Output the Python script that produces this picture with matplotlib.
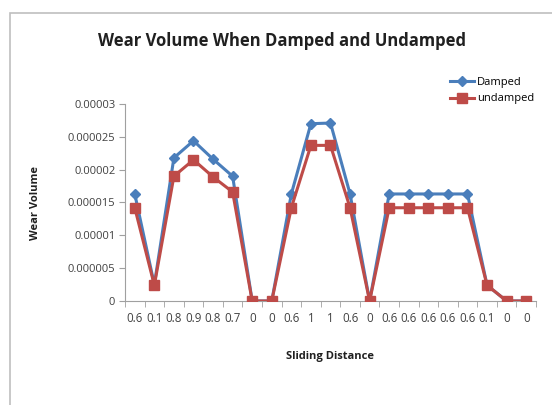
import matplotlib.pyplot as plt
from matplotlib.patches import Rectangle

# categories along the x axis (sliding distance labels as shown)
distance_labels = ["0.6", "0.1", "0.8", "0.9", "0.8", "0.7", "0", "0", "0.6", "1", "1",
                   "0.6", "0", "0.6", "0.6", "0.6", "0.6", "0.6", "0.1", "0", "0"]

damped = [1.63e-5, 2.5e-6, 2.18e-5, 2.44e-5, 2.16e-5, 1.90e-5, 0, 0, 1.63e-5, 2.70e-5, 2.71e-5,
          1.63e-5, 0, 1.63e-5, 1.63e-5, 1.63e-5, 1.63e-5, 1.63e-5, 2.4e-6, 0, 0]
undamped = [1.42e-5, 2.4e-6, 1.90e-5, 2.15e-5, 1.89e-5, 1.66e-5, 0, 0, 1.42e-5, 2.37e-5, 2.37e-5,
            1.42e-5, 0, 1.42e-5, 1.42e-5, 1.42e-5, 1.42e-5, 1.42e-5, 2.4e-6, 0, 0]

y_ticks = [0, 0.000005, 0.00001, 0.000015, 0.00002, 0.000025, 0.00003]
y_tick_labels = ["0", "0.000005", "0.00001", "0.000015", "0.00002", "0.000025", "0.00003"]

plt.rcParams['font.family'] = ['Open Sans', 'DejaVu Sans']

fig = plt.figure(figsize=(5.52, 4.05), dpi=100)
ax = fig.add_axes([0.2264, 0.2568, 0.7446, 0.4864])

# chart border
fig.patches.append(Rectangle((10 / 552, -0.05), 1.1, 1 - 13 / 405 + 0.05,
                             transform=fig.transFigure, fill=False,
                             edgecolor="#bfbfbf", linewidth=1.2))

x = list(range(len(distance_labels)))
ax.plot(x, damped, color="#4a7ebb", linewidth=2.2, marker="D", markersize=5,
        label="Damped", zorder=3)
ax.plot(x, undamped, color="#be4b48", linewidth=2.2, marker="s", markersize=7,
        label="undamped", zorder=4)

ax.set_xlim(-0.5, len(distance_labels) - 0.5)
ax.set_ylim(0, 0.00003)
ax.set_yticks(y_ticks)
ax.set_yticklabels(y_tick_labels, fontsize=8, color="#404040")
ax.set_xticks(x)
ax.set_xticklabels(distance_labels, fontsize=8.3, color="#404040")
ax.tick_params(axis="x", length=0, pad=8)
ax.set_xticks([i - 0.5 for i in range(len(distance_labels) + 1)], minor=True)
ax.tick_params(axis="x", which="minor", length=4, color="#a0a0a0", direction="out")
ax.tick_params(axis="y", length=4, color="#a0a0a0", direction="out", pad=3)

for side in ["top", "right"]:
    ax.spines[side].set_visible(False)
ax.spines["left"].set_color("#a0a0a0")
ax.spines["bottom"].set_color("#a0a0a0")

ax.set_xlabel("Sliding Distance", fontsize=8, fontweight="bold", labelpad=19, color="#202020")
ax.set_ylabel("Wear Volume", fontsize=8, fontweight="bold", labelpad=19, color="#202020")
fig.text(0.51, 0.90, "Wear Volume When Damped and Undamped", ha="center", va="center",
         fontsize=12, fontweight="bold", color="#202020")

ax.legend(loc="upper left", bbox_to_anchor=(0.78, 1.16), frameon=False, fontsize=8,
          handlelength=2.2, handletextpad=0.2, labelspacing=0.5, borderaxespad=0)

fig.savefig("out.png", dpi=100)
